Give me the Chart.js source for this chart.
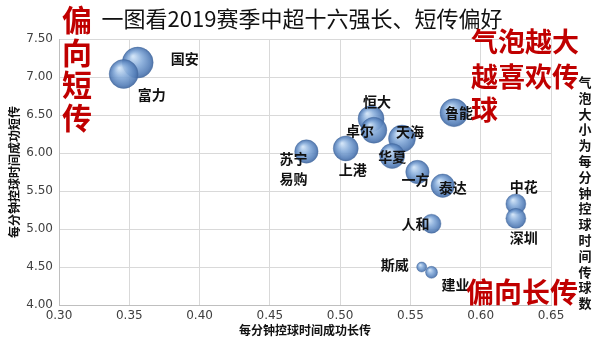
<!DOCTYPE html>
<html><head><meta charset="utf-8">
<script src="https://cdn.jsdelivr.net/npm/chart.js@4/dist/chart.umd.min.js"></script>
<style>html,body{margin:0;padding:0;background:#fff;}#wrap{width:594px;height:355px;position:relative;}</style>
</head><body><div id="wrap"><canvas id="c" width="594" height="355"></canvas></div>
<script>
// ---- data ----
const teams = ['国安','富力','苏宁易购','上港','恒大','卓尔','天海','华夏','鲁能','一方','泰达','中花','深圳','人和','斯威','建业'];
const longPass = [0.356,0.346,0.476,0.504,0.522,0.524,0.544,0.537,0.581,0.555,0.573,0.625,0.625,0.565,0.558,0.565];
const shortPass = [7.19,7.04,6.02,6.06,6.45,6.30,6.19,5.96,6.53,5.75,5.57,5.33,5.14,5.07,4.50,4.43];
const passesPerMin = [24,21,13.7,15.6,16.9,16.9,18.2,15.6,19.6,13.7,13.7,10,10,9,2.5,3.6];
const xTicks = ['0.30','0.35','0.40','0.45','0.50','0.55','0.60','0.65'];
const yTicks = ['4.00','4.50','5.00','5.50','6.00','6.50','7.00','7.50'];

// ---- styles ----
const sizeK = 3.16;
const labelOffsets = {
  '国安':[47,-4],'富力':[28,21],'苏宁易购':[-13,7],'上港':[7,21],'恒大':[6,-17],'卓尔':[-14,0],
  '天海':[8,-7],'华夏':[0,1],'鲁能':[5,0],'一方':[-2,8],'泰达':[10,2],'中花':[8,-17],
  '深圳':[8,19],'人和':[-16,0],'斯威':[-27,-2],'建业':[24,12]
};
const pts = teams.map((t,i)=>({x:longPass[i], y:shortPass[i], r:Math.sqrt(passesPerMin[i])*sizeK, name:t}));

function bubbleFill(c){
  if(c.type!=='data') return '#5b8bc6';
  const ch=c.chart, xs=ch.scales.x, ys=ch.scales.y;
  const p=c.raw;
  if(!xs||!ys) return '#6f9bd0';
  const px=xs.getPixelForValue(p.x), py=ys.getPixelForValue(p.y), r=p.r;
  if(!isFinite(px)||!isFinite(py)||!isFinite(r)) return '#6f9bd0';
  const g=ch.ctx.createRadialGradient(px-r*0.3,py-r*0.4,r*0.05,px,py,r);
  g.addColorStop(0,'rgba(205,225,246,0.92)');
  g.addColorStop(0.45,'rgba(132,170,217,0.9)');
  g.addColorStop(0.85,'rgba(84,126,184,0.9)');
  g.addColorStop(1,'rgba(66,104,160,0.92)');
  return g;
}

const labelPlugin = {
  id:'lbls',
  afterDatasetsDraw(chart){
    const ctx=chart.ctx, meta=chart.getDatasetMeta(0);
    ctx.save();
    ctx.font='bold 14px "Noto Sans CJK SC"';
    ctx.fillStyle='#111';
    ctx.textAlign='center'; ctx.textBaseline='middle';
    meta.data.forEach((el,i)=>{
      const t=teams[i], o=labelOffsets[t];
      if(t==='苏宁易购'){
        ctx.fillText('苏宁',el.x+o[0],el.y+o[1]);
        ctx.fillText('易购',el.x+o[0],el.y+o[1]+20);
      } else ctx.fillText(t,el.x+o[0],el.y+o[1]);
    });
    ctx.restore();
  },
  afterDraw(chart){
    const ctx=chart.ctx;
    ctx.save();
    ctx.textAlign='center'; ctx.textBaseline='middle';
    ctx.fillStyle='#111';
    ctx.font='22px "Noto Sans CJK SC"';
    ctx.fillText('一图看2019赛季中超十六强长、短传偏好',302,19);
    ctx.fillStyle='#c00000';
    ctx.font='bold 30px "Noto Sans CJK SC"';
    ['偏','向','短','传'].forEach((ch,i)=>ctx.fillText(ch,77,20+i*32.5));
    ctx.font='bold 27px "Noto Sans CJK SC"';
    ctx.textAlign='left';
    ctx.fillText('气泡越大',471,42);
    ctx.fillText('越喜欢传',471,77);
    ctx.fillText('球',471,110);
    ctx.font='bold 28px "Noto Sans CJK SC"';
    ctx.fillText('偏向长传',466,292);
    ctx.textAlign='center';
    ctx.fillStyle='#111';
    ctx.font='bold 13px "Noto Sans CJK SC"';
    Array.from('气泡大小为每分钟控球时间传球数').forEach((ch,i)=>ctx.fillText(ch,585,82+i*15.8));
    ctx.restore();
  }
};

new Chart(document.getElementById('c'),{
  type:'bubble',
  data:{datasets:[{data:pts, backgroundColor:bubbleFill, borderColor:'rgba(70,108,162,0.7)', borderWidth:0.6}]},
  options:{
    responsive:false, animation:false, events:[],
    layout:{padding:{top:39,right:43,left:0,bottom:0}},
    plugins:{legend:{display:false},tooltip:{enabled:false},title:{display:false}},
    scales:{
      x:{type:'linear',min:0.30,max:0.65,
        afterFit(s){s.height=50;},
        grid:{color:'#d9d9d9',drawTicks:false},
        border:{color:'#bfbfbf'},
        ticks:{stepSize:0.05,padding:4,color:'#404040',font:{family:'DejaVu Sans',size:12},
          callback:(v,i)=>xTicks[i]},
        title:{display:true,text:'每分钟控球时间成功长传',color:'#111',font:{family:'Noto Sans CJK SC',size:12,weight:'bold'},padding:{top:0,bottom:17}}
      },
      y:{type:'linear',min:4,max:7.5,
        afterFit(s){s.width=59;},
        grid:{color:'#d9d9d9',drawTicks:false},
        border:{color:'#bfbfbf'},
        ticks:{stepSize:0.5,padding:6,color:'#404040',font:{family:'DejaVu Sans',size:12},
          callback:(v,i)=>yTicks[i]},
        title:{display:true,text:'每分钟控球时间成功短传',color:'#111',font:{family:'Noto Sans CJK SC',size:12,weight:'bold'},padding:{top:7,bottom:0}}
      }
    }
  },
  plugins:[labelPlugin]
});
</script></body></html>
